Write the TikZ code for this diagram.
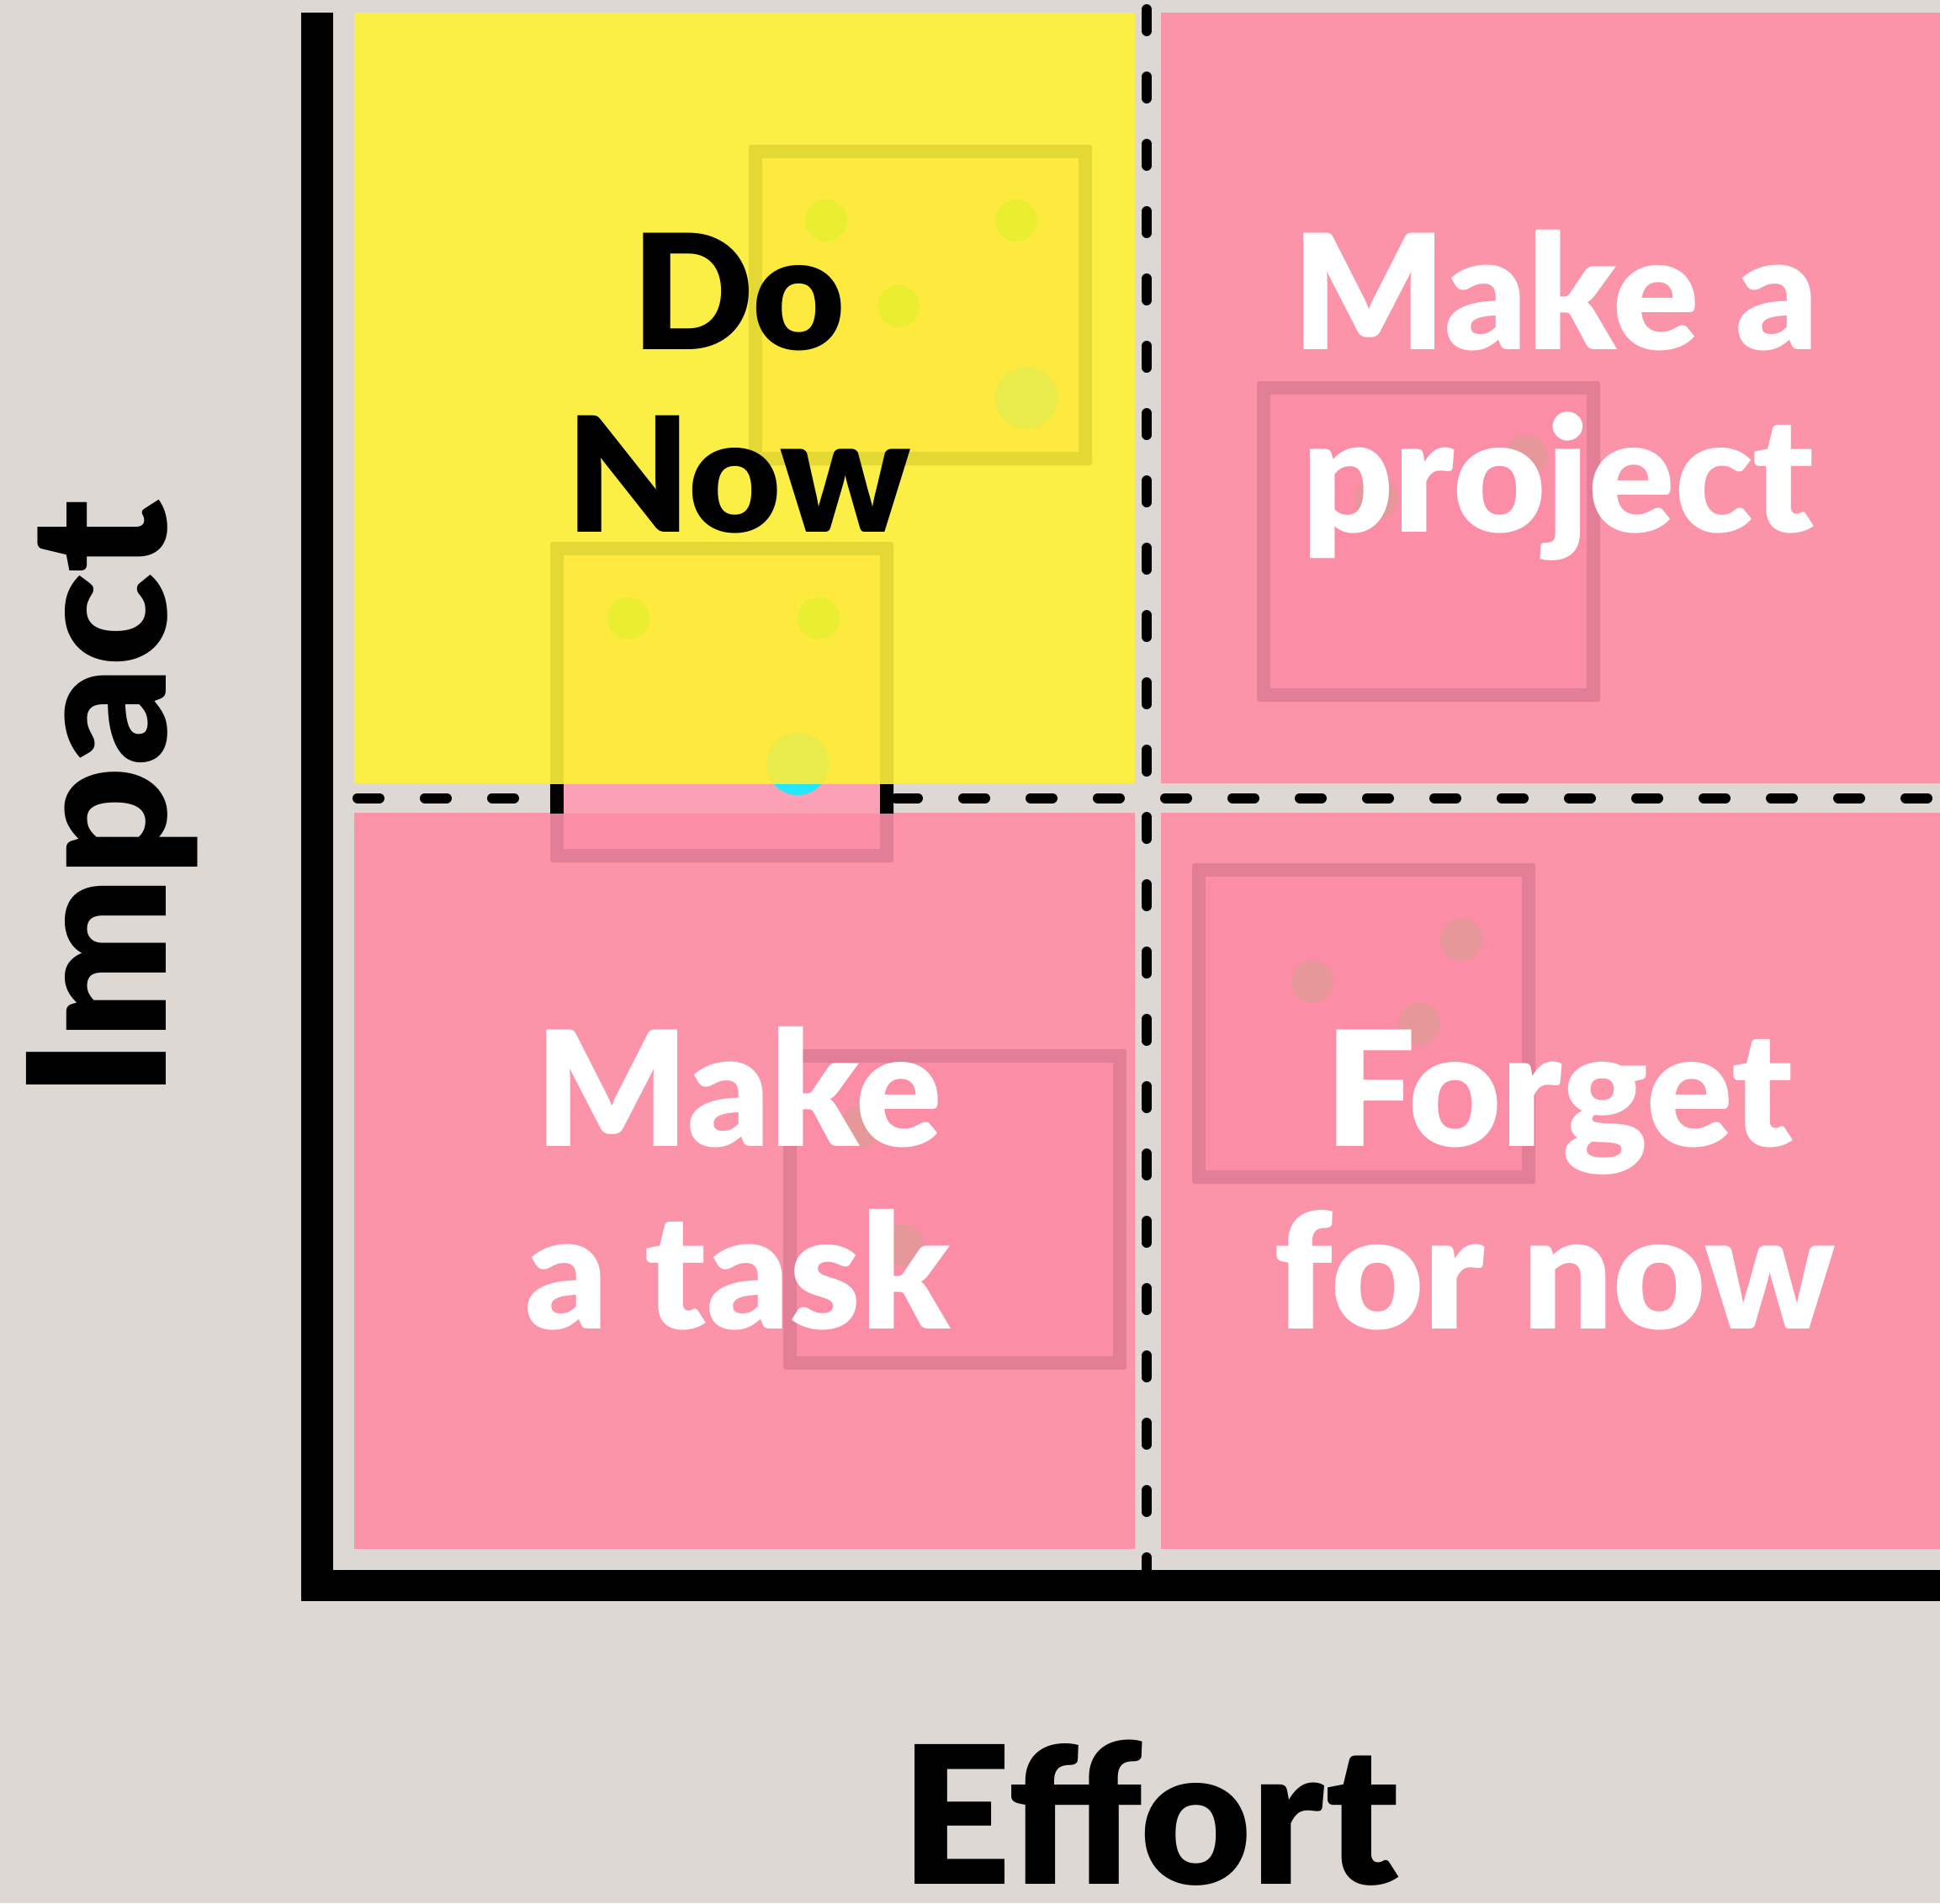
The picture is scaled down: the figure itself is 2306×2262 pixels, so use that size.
\documentclass[tikz,border=0pt]{standalone}
\usepackage{fontspec}
\setmainfont{Lato}[BoldFont={* Black}]
\definecolor{bg}{HTML}{DDD8D4}
\definecolor{yel}{HTML}{FBEE45}
\definecolor{pnk}{HTML}{FC94A9}
\definecolor{ysqb}{HTML}{E3D834}
\definecolor{ysqf}{HTML}{FEE93F}
\definecolor{psqb}{HTML}{E27F97}
\definecolor{psqf}{HTML}{FB8EA6}
\definecolor{gpnk}{HTML}{FCA0B5}
\definecolor{ydot}{HTML}{E9EE30}
\definecolor{ydotb}{HTML}{E8EB4A}
\definecolor{pdot}{HTML}{E59799}
\definecolor{cyn}{HTML}{25E6FA}
\newcommand{\stickysq}[4]{%
  \fill[#3, rounded corners=3pt] (#1,#2) rectangle ++(408,381);
  \fill[#4] ({#1+16},{#2+16}) rectangle ++(376,349);
}
\tikzset{
  lbl/.style={font=\bfseries\fontsize{190}{217}\selectfont, inner sep=0pt, anchor=base, text=white},
  axlbl/.style={font=\bfseries\fontsize{228}{260}\selectfont, inner sep=0pt, anchor=base, text=black},
  dashline/.style={line width=12pt, line cap=round, dash pattern=on 26pt off 54pt, black},
  dotsmall/.style={radius=25},
  dotbig/.style={radius=37}
}
\begin{document}
\begin{tikzpicture}[x=1pt,y=-1pt]
\useasboundingbox (0,0) rectangle (2306,2262);
\fill[bg] (0,0) rectangle (2306,2262);
% quadrants
\fill[yel] (421,15) rectangle (1349,931);
\fill[pnk] (1380,15) rectangle (2306,931);
\fill[pnk] (421,966) rectangle (1349,1841);
\fill[pnk] (1380,966) rectangle (2306,1841);
% dashed dividers
\coordinate (vtop) at (1363,11);
\coordinate (vbot) at (1363,1872);
\coordinate (hleft) at (425,948.5);
\coordinate (hright) at (2320,948.5);
\draw[dashline] (vtop) -- (vbot);
\draw[dashline] (hleft) -- (hright);
% sticky squares
\stickysq{890}{172}{ysqb}{ysqf}
\begin{scope}
  \clip (421,0) rectangle (1349,932);
  \stickysq{654}{644}{ysqb}{ysqf}
\end{scope}
\begin{scope}
  \clip (421,966) rectangle (1349,1841);
  \stickysq{654}{644}{psqb}{psqf}
\end{scope}
\begin{scope}
  \clip (600,932) rectangle (1100,966);
  \stickysq{654}{644}{black}{gpnk}
\end{scope}
\stickysq{1494}{453}{psqb}{psqf}
\stickysq{1417}{1026}{psqb}{psqf}
\stickysq{931}{1247}{psqb}{psqf}
% dots
\fill[ydot] (982,262) circle[dotsmall];
\fill[ydot] (1208,262) circle[dotsmall];
\fill[ydot] (1068,364) circle[dotsmall];
\fill[ydotb] (1220,473) circle[dotbig];
\fill[ydot] (747,735) circle[dotsmall];
\fill[ydot] (973,735) circle[dotsmall];
\begin{scope}
  \clip (421,0) rectangle (1349,932);
  \fill[ydotb] (948,908) circle[dotbig];
\end{scope}
\begin{scope}
  \clip (600,932) rectangle (1100,966);
  \fill[cyn] (948,908) circle[dotbig];
\end{scope}
\fill[pdot] (1636,592) circle[dotsmall];
\fill[pdot] (1814,542) circle[dotsmall];
\fill[pdot] (1560,1167) circle[dotsmall];
\fill[pdot] (1737,1117) circle[dotsmall];
\fill[pdot] (1687,1217) circle[dotsmall];
\fill[pdot] (1025,1338) circle[dotsmall];
\fill[pdot] (1073,1480) circle[dotsmall];
% labels
\node[lbl, text=black] (do1) at (878,415) {Do};
\node[lbl, text=black] (do2) at (878,632) {Now};
\node[lbl] (pr1) at (1849,415) {Make a};
\node[lbl] (pr2) at (1852,632) {project};
\node[lbl] (ta1) at (878,1362) {Make};
\node[lbl] (ta2) at (877,1579) {a task};
\node[lbl] (fo1) at (1853,1362) {Forget};
\node[lbl] (fo2) at (1848,1579) {for now};
% axes
\fill[black] (358,15) rectangle (396,1903);
\fill[black] (358,1866) rectangle (2306,1903);
\node[axlbl] (effort) at (1367,2239) {Effort};
\node[axlbl, rotate=90] (impact) at (197,950) {Impact};
\end{tikzpicture}
\end{document}
